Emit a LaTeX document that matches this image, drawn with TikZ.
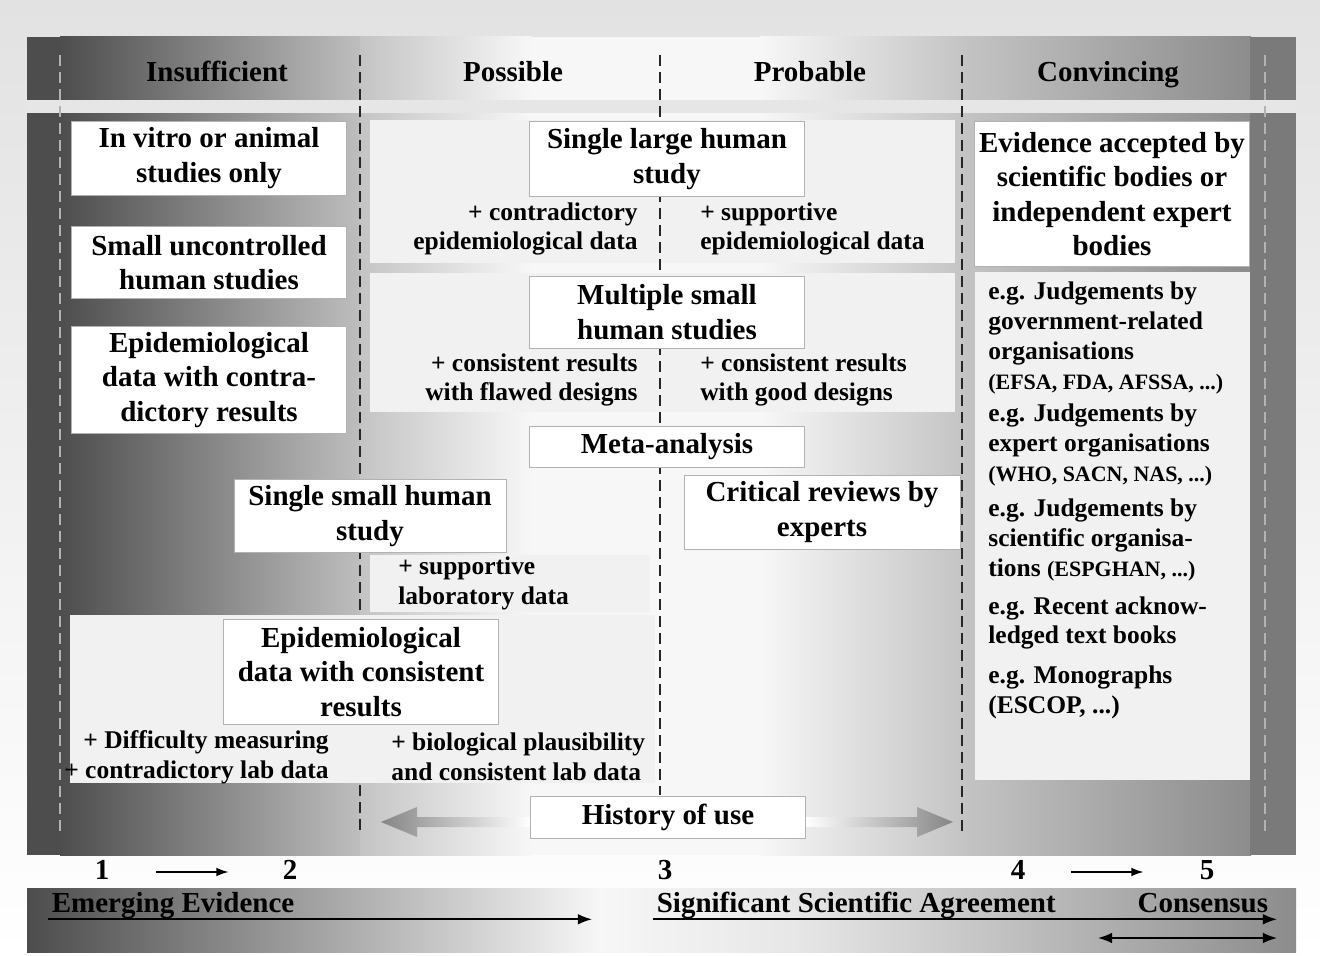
\documentclass[tikz,border=0pt]{standalone}
\usepackage{fontspec}
\setmainfont{Liberation Serif}
\usetikzlibrary{positioning,calc,arrows.meta}

\definecolor{bgtop}{HTML}{E2E2E2}
\definecolor{deep}{HTML}{4D4D4D}
\definecolor{midgray}{HTML}{BEBEBE}
\definecolor{softgray}{HTML}{C4C4C4}
\definecolor{pale}{HTML}{F7F7F7}
\definecolor{panelgray}{HTML}{F1F1F1}
\definecolor{rightlight}{HTML}{C4C4C4}
\definecolor{rightdark}{HTML}{8C8C8C}
\definecolor{edge}{HTML}{7A7A7A}
\definecolor{gapgray}{HTML}{E6E6E6}
\definecolor{arrowgray}{HTML}{858585}

\newcommand\boxfont{\fontsize{16.5}{19.5}\selectfont\bfseries}
\newcommand\notefont{\fontsize{14.5}{17}\selectfont\bfseries}
\newcommand\smallfont{\fontsize{12.5}{15}\selectfont}

\begin{document}
\begin{tikzpicture}[x=0.02cm,y=-0.02cm,
    stagebox/.style={rectangle,draw=gray!60,fill=white,thin,minimum width=5.5cm,inner sep=0pt,align=center,font=\boxfont},
    note/.style={inner sep=0pt,font=\notefont},
    heading/.style={font=\boxfont,text height=11.5pt,text depth=3.5pt},
    divider/.style={draw=gray!30!black,line width=1.2pt,dash pattern=on 0.22cm off 0.12cm},
    faintdivider/.style={divider,draw=gray!60},
    panel/.style={fill=panelgray}]
    % background
    \shade[top color=bgtop,bottom color=white] (0,0) rectangle (1320,956);
    \useasboundingbox (0,0) rectangle (1320,956);
    % header band and main field
    \fill[deep] (27,37) rectangle (61,855);
    \shade[left color=deep,right color=midgray] (60,37) rectangle (361,855);
    \shade[left color=softgray,right color=pale] (360,37) rectangle (531,855);
    \fill[pale] (530,37) rectangle (761,855);
    \shade[left color=pale,right color=softgray] (760,37) rectangle (963,855);
    \shade[left color=rightlight,right color=rightdark] (962,37) rectangle (1251,855);
    \fill[edge] (1250,37) rectangle (1296,855);
    \fill[gapgray] (27,100) rectangle (1296,113);
    % light panels
    \fill[panel] (370,120) rectangle (955,263);
    \fill[panel] (370,273) rectangle (955,412);
    \fill[panel] (370,555) rectangle (650,612);
    \fill[panel] (70,615) rectangle (655,783);
    \fill[panel] (975,272) rectangle (1250,780);
    % column dividers
    \draw[divider] (360,55) -- (360,615) (360,785) -- (360,835);
    \draw[divider] (660,55) -- (660,795);
    \draw[divider] (962,55) -- (962,835);
    \draw[faintdivider] (60,55) -- (60,835) (1265,55) -- (1265,835);

    \node[heading] (insufficient) at (217,74) {Insufficient};
    \node[heading] (possible) at (513,74) {Possible};
    \node[heading] (probable) at (810,74) {Probable};
    \node[heading] (convincing) at (1108,74) {Convincing};

    \node[stagebox,minimum height=1.48cm] (vitro) at (209,158) {In vitro or animal\\studies only};
    \node[stagebox,minimum height=1.44cm] (uncontrolled) [below=0.62cm of vitro] {Small uncontrolled\\human studies};
    \node[stagebox,minimum height=2.14cm] (contra) [below=0.54cm of uncontrolled] {Epidemiological\\data with contra-\\dictory results};
    \node[stagebox,minimum height=1.5cm] (large) at (667,159) {Single large human\\study};
    \node[stagebox,minimum height=1.44cm] (multiple) [below=1.58cm of large] {Multiple small\\human studies};
    \node[stagebox,minimum height=0.84cm] (meta) [below=1.54cm of multiple] {Meta-analysis};
    \node[stagebox,minimum height=1.46cm,minimum width=5.44cm] (singlesmall) at (370,516) {Single small human\\study};
    \node[stagebox,minimum height=1.48cm,minimum width=5.52cm] (critical) at (822,512) {Critical reviews by\\experts};
    \node[stagebox,minimum height=2.1cm] (consistent) at (361,672) {Epidemiological\\data with consistent\\results};
    \node[stagebox,minimum height=2.9cm] (evidence) at (1112,194) {Evidence accepted by\\scientific bodies or\\independent expert\\bodies};

    \node[note,anchor=east,align=right] (contranote) at (638,229) {+ contradictory\\epidemiological data};
    \node[note,anchor=west,align=left] (supportnote) at (700,229) {+ supportive\\epidemiological data};
    \node[note,anchor=east,align=right] (flawednote) at (638,380) {+ consistent results\\with flawed designs};
    \node[note,anchor=west,align=left] (goodnote) at (700,380) {+ consistent results\\with good designs};
    \node[note,anchor=west,align=left] (labnote) at (398,583) {+ supportive\\laboratory data};
    \node[note,anchor=east,align=right] (difficultynote) at (329,757) {+ Difficulty measuring\\+ contradictory lab data};
    \node[note,anchor=west,align=left] (plausibnote) at (391,757) {+ biological plausibility\\and consistent lab data};

    \node[note,anchor=west,align=left] (govt) at (988,338) {e.g. Judgements by\\government-related\\organisations\\{\smallfont (EFSA, FDA, AFSSA, ...)}};
    \node[note,anchor=west,align=left] (experts) at (988,445) {e.g. Judgements by\\expert organisations\\{\smallfont (WHO, SACN, NAS, ...)}};
    \node[note,anchor=west,align=left] (scientific) at (988,540) {e.g. Judgements by\\scientific organisa-\\tions {\smallfont (ESPGHAN, ...)}};
    \node[note,anchor=west,align=left] (books) at (988,623) {e.g. Recent acknow-\\ledged text books};
    \node[note,anchor=west,align=left] (monographs) at (988,692) {e.g. Monographs\\(ESCOP, ...)};

    % history of use arrows
    \node[stagebox,minimum height=0.84cm] (history) at (668,817) {History of use};
    \coordinate (useleft) at (381,822);
    \coordinate (useright) at (953,822);
    \shade[left color=arrowgray,right color=white] (useleft) -- ($(useleft)+(36,-15)$) -- ($(useleft)+(36,-5)$)
        -- ($(useleft -| history.west)+(0,-5)$) -- ($(useleft -| history.west)+(0,5)$)
        -- ($(useleft)+(36,5)$) -- ($(useleft)+(36,15)$) -- cycle;
    \shade[left color=white,right color=arrowgray] (useright) -- ($(useright)+(-36,-15)$) -- ($(useright)+(-36,-5)$)
        -- ($(useright -| history.east)+(0,-5)$) -- ($(useright -| history.east)+(0,5)$)
        -- ($(useright)+(-36,5)$) -- ($(useright)+(-36,15)$) -- cycle;
    \node[stagebox,minimum height=0.84cm] at (history) {History of use};

    % scale of agreement
    \node[heading] (one) at (102,872) {1};
    \node[heading] (two) at (290,872) {2};
    \node[heading] (three) at (665,872) {3};
    \node[heading] (four) at (1018,872) {4};
    \node[heading] (five) at (1207,872) {5};
    \draw[-{Latex[length=7pt,width=5pt]},line width=0.9pt,shorten <=0.82cm,shorten >=0.96cm] (one) -- (two);
    \draw[-{Latex[length=7pt,width=5pt]},line width=0.9pt,shorten <=0.8cm,shorten >=1cm] (four) -- (five);

    \shade[left color=deep,right color=pale] (27,888) rectangle (601,952);
    \shade[left color=pale,right color=gapgray] (600,888) rectangle (801,952);
    \shade[left color=gapgray,right color=rightdark] (800,888) rectangle (1296,952);
    \node[heading,text depth=1.5pt,anchor=west,inner sep=2pt] (emerging) at (48,904) {Emerging Evidence};
    \node[heading,text depth=1.5pt,anchor=west,inner sep=2pt] (agreement) at (653,904) {Significant Scientific Agreement};
    \node[heading,text depth=1.5pt,anchor=east,inner sep=2pt] (consensus) at (1272,904) {Consensus};
    \coordinate (emergingend) at (592,921);
    \coordinate (agreementend) at (1277,919);
    \coordinate (consensusstart) at (1098,938);
    \draw[-{Latex[length=8pt,width=6pt]},line width=0.9pt] (emerging.south west) -- (emerging.south west -| emergingend);
    \draw[-{Latex[length=8pt,width=6pt]},line width=0.9pt] (agreement.south west) -- (agreement.south west -| agreementend);
    \draw[{Latex[length=8pt,width=6pt]}-{Latex[length=8pt,width=6pt]},line width=0.9pt] (consensusstart) -- (consensusstart -| agreementend);
\end{tikzpicture}
\end{document}
